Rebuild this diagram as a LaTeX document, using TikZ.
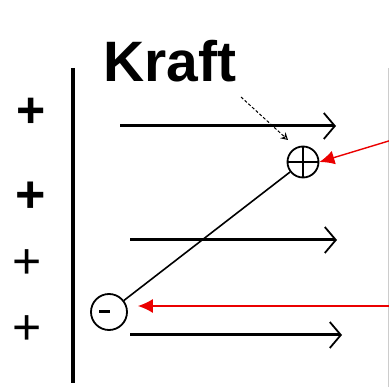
\documentclass[tikz,border=0pt]{standalone}
\usepackage{fontspec}
\setmainfont{Liberation Sans}
\usetikzlibrary{arrows.meta,positioning,calc}
\definecolor{zeigerrot}{RGB}{235,0,0}

\begin{document}
\begin{tikzpicture}[x=1pt, y=-1pt,
  feld/.style={line width=3pt, -{Straight Barb[length=11pt, width=26pt, line width=1.8pt]}},
  vorz/.style={font=\fontsize{50}{50}\selectfont, inner sep=0pt},
  ladung/.style={draw, circle, line width=1.8pt, inner sep=0pt},
  zeiger/.style={draw=zeigerrot, line width=1.4pt, -{Latex[length=15pt, width=14pt]}}
]
\useasboundingbox (0,0) rectangle (389,387);

% Platte mit Ladungen
\draw[line width=4pt] (73,68) coordinate (pa) -- (73,383) coordinate (pb);
\draw[gray!40, line width=1pt] (388,68) -- (388,387);
\node[vorz, font=\fontsize{50}{50}\selectfont\bfseries] (vz1) at (31,113) {+};
\node[vorz, font=\fontsize{52}{52}\selectfont\bfseries] (vz2) at (31,197) {+};
\node[vorz] (vz3) at (27,264) {+};
\node[vorz] (vz4) at (27,330) {+};

% Feldlinien
\coordinate (f1a) at (120,126); \coordinate (f1b) at (336,126);
\coordinate (f2a) at (130,240); \coordinate (f2b) at (337,240);
\coordinate (f3a) at (130,335); \coordinate (f3b) at (342,335);
\draw[feld] (f1a) -- (f1b);
\draw[feld] (f2a) -- (f2b);
\draw[feld] (f3a) -- (f3b);

% Dipol
\node[ladung, minimum size=31pt] (ladP) at (303,162) {};
\node[ladung, minimum size=36pt] (ladM) at (109,312) {};
\draw[line width=1.4pt] (ladP.north) -- (ladP.south);
\draw[line width=1.4pt] (ladP.west) -- (ladP.east);
\draw[line width=3pt] ($(ladM.center)+(-10,0)$) -- ++(11,0);
\draw[line width=1.6pt] (ladM) -- (ladP);

% Beschriftung
\node[font=\fontsize{57}{57}\selectfont\bfseries, anchor=base west, inner sep=0pt] (kraft) at (103,82) {Kraft};
\coordinate (kz) at (241,97);
\coordinate (kspitze) at (288,140);
\draw[densely dashed, line width=1pt, -{Stealth[length=7pt, width=8pt, open]}] (kz) -- (kspitze);

% Zeiger
\coordinate (r1) at (392,140);
\coordinate (r2) at (392,306);
\draw[zeiger] (r1) -- (ladP.east);
\draw[zeiger] (r2) -- ($(ladM.east)+(10,-6)$);
\end{tikzpicture}
\end{document}
